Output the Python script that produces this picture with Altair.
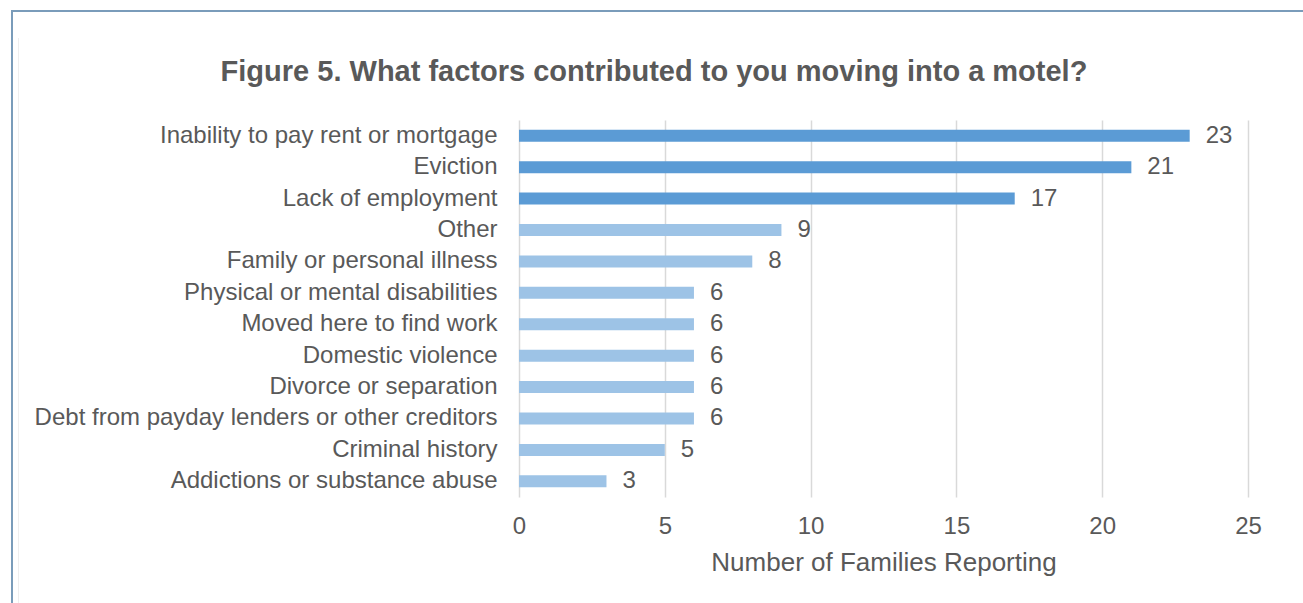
import altair as alt
import pandas as pd

categories = [
    "Inability to pay rent or mortgage",
    "Eviction",
    "Lack of employment",
    "Other",
    "Family or personal illness",
    "Physical or mental disabilities",
    "Moved here to find work",
    "Domestic violence",
    "Divorce or separation",
    "Debt from payday lenders or other creditors",
    "Criminal history",
    "Addictions or substance abuse",
]
values = [23, 21, 17, 9, 8, 6, 6, 6, 6, 6, 5, 3]
groups = ["top"] * 3 + ["rest"] * 9
title_text = ["Figure 5. What factors contributed to you moving into a motel?"]

df = pd.DataFrame({"factor": categories, "count": values, "group": groups})
tdf = pd.DataFrame({"t": title_text})

FONT = "Liberation Sans"
TXT = "#595959"
W, H = 729, 377
LEFT, TOP = 519, 120

y_enc = alt.Y("factor:N", sort=categories, title=None,
              scale=alt.Scale(paddingInner=0.6, paddingOuter=0.3),
              axis=alt.Axis(labelFontSize=24, labelColor=TXT, labelFont=FONT,
                            ticks=False, domain=False, labelPadding=22,
                            grid=False, labelLimit=600))
x_enc = alt.X("count:Q", title="Number of Families Reporting",
              scale=alt.Scale(domain=[0, 25], nice=False),
              axis=alt.Axis(values=[0, 5, 10, 15, 20, 25], labelFontSize=24,
                            labelColor=TXT, labelFont=FONT, ticks=False,
                            labelFlush=False,
                            domain=False, labelPadding=17, grid=True,
                            gridColor="#D9D9D9", gridWidth=1.5,
                            titleFontSize=26, titleFontWeight="normal",
                            titleColor=TXT, titleFont=FONT, titlePadding=11))

bars = alt.Chart(df).mark_bar(size=12).encode(
    x=x_enc, y=y_enc,
    color=alt.Color("group:N", scale=alt.Scale(domain=["top", "rest"],
                                                range=["#5B9BD5", "#9DC3E6"]),
                    legend=None),
)

labels = alt.Chart(df).mark_text(align="left", baseline="middle", dx=16,
                                 fontSize=24, font=FONT, color=TXT).encode(
    x="count:Q", y=alt.Y("factor:N", sort=categories), text="count:Q")

title = alt.Chart(tdf).mark_text(align="center", baseline="middle", fontSize=29,
                                 fontWeight="bold", font=FONT, color=TXT).encode(
    x=alt.value(654 - LEFT), y=alt.value(72 - TOP), text="t:N")

border_left = alt.Chart(df).mark_rule(color="#7A9CBA", strokeWidth=2).encode(
    x=alt.value(12 - LEFT), y=alt.value(10 - TOP), y2=alt.value(603 - TOP))
border_top = alt.Chart(df).mark_rule(color="#7A9CBA", strokeWidth=2).encode(
    x=alt.value(11 - LEFT), x2=alt.value(1303 - LEFT), y=alt.value(11 - TOP))
inner_line = alt.Chart(df).mark_rule(color="#EEEEEE", strokeWidth=1).encode(
    x=alt.value(18.5 - LEFT), y=alt.value(38 - TOP), y2=alt.value(603 - TOP))

chart = alt.layer(border_left, border_top, inner_line, bars, labels, title).properties(
    width=W, height=H,
    background="white",
    autosize=alt.AutoSizeParams(type="none"),
    padding={"left": LEFT, "top": TOP, "right": 1303 - LEFT - W, "bottom": 603 - TOP - H},
).configure_view(stroke=None, strokeWidth=0)

chart.save("out.html", embed_options={"renderer": "svg", "actions": False})
